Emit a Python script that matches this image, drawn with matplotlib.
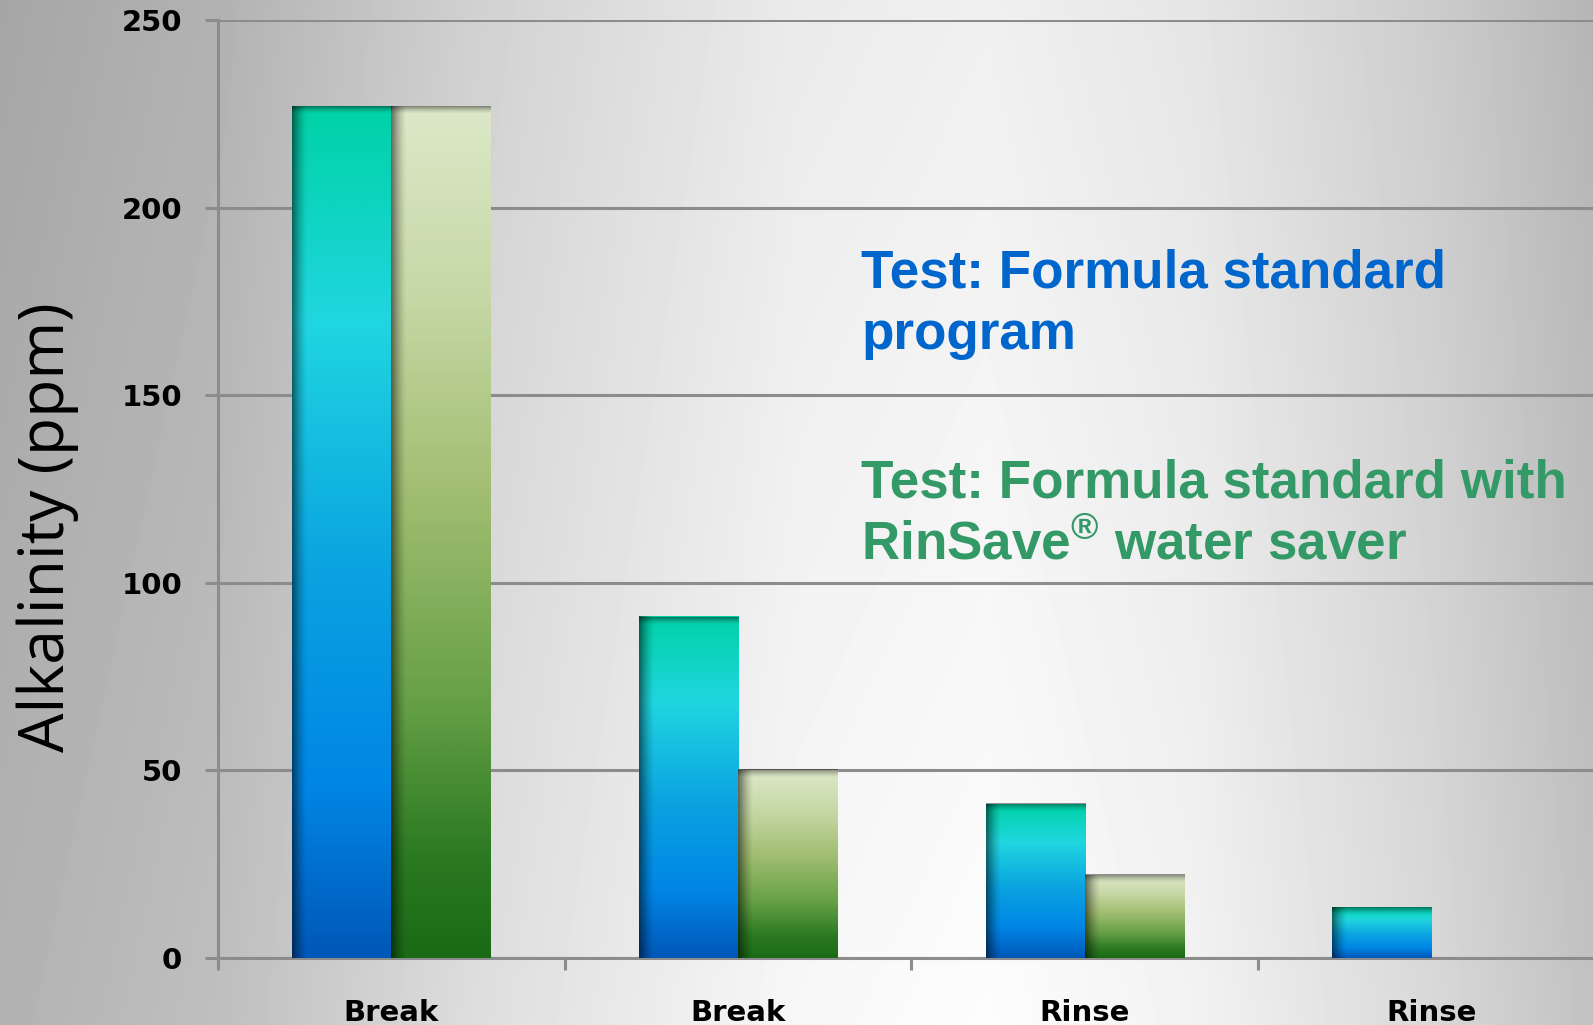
import numpy as np
import matplotlib
matplotlib.use('Agg')
import matplotlib.pyplot as plt
from matplotlib.colors import LinearSegmentedColormap

# data
categories = ['Break', 'Break', 'Rinse', 'Rinse']
standard = [227, 91, 41, 13.5]
rinsave = [227, 50, 22, 0]
y_ticks = [0, 50, 100, 150, 200, 250]

blue_stops = [(0.0, '#0058b8'), (0.2, '#0086e6'), (0.45, '#0aa2e0'),
              (0.75, '#20d6e0'), (1.0, '#00d2a6')]
green_stops = [(0.0, '#1a6a16'), (0.12, '#2c7a22'), (0.3, '#66a046'),
               (0.55, '#a2be72'), (0.78, '#c6d8a6'), (1.0, '#dce8c8')]

plt.rcParams['mathtext.fontset'] = 'custom'
plt.rcParams['mathtext.rm'] = 'Liberation Sans:bold'

W, H = 1593, 1025
fig = plt.figure(figsize=(W / 100, H / 100), dpi=100)

# background gradient
bg = fig.add_axes([0, 0, 1, 1], zorder=-10)
xs = np.linspace(0, 1, 500)
ys = np.linspace(0, 1, 300)
hx = np.interp(xs, [0, 0.14, 0.3, 0.5, 0.62, 0.75, 0.9, 1.0],
               [0.70, 0.75, 0.87, 0.97, 0.99, 0.95, 0.85, 0.76])
val = hx[None, :] - 0.05 * (1 - ys)[:, None]
bg.imshow(np.clip(val, 0, 1), cmap='gray', vmin=0, vmax=1, aspect='auto',
          extent=[0, 1, 0, 1], interpolation='bilinear')
bg.axis('off')

gray = '#8c8c8c'
ax = fig.add_axes([218 / W, 67 / H, (1604.7 - 218) / W, 938 / H])
ax.set_facecolor('none')

x = np.arange(len(categories))
w = 0.2856
b1 = ax.bar(x - w / 2, standard, w, color='none', zorder=2)
b2 = ax.bar(x + w / 2, rinsave, w, color='none', zorder=2)

px = 1 / 346.7          # one pixel in x data units
py = 250 / 938          # one pixel in y data units


def paint(rect, cmap):
    x0 = rect.get_x()
    x1 = x0 + rect.get_width()
    h = rect.get_height()
    if h <= 0:
        return
    grad = np.linspace(0, 1, 256)[:, None]
    ax.imshow(grad, cmap=cmap, origin='lower', extent=[x0, x1, 0, h],
              aspect='auto', zorder=3, interpolation='bilinear')
    # dark left edge
    sh = np.zeros((1, 64, 4))
    sh[..., 3] = 0.55 * (1 - np.linspace(0, 1, 64)) ** 1.5
    ax.imshow(sh, extent=[x0, x0 + 16 * px, 0, h], aspect='auto', zorder=4)
    # dark top band
    st = np.zeros((64, 1, 4))
    st[..., 3] = (0.45 * np.linspace(0, 1, 64) ** 1.5)[:, None]
    ax.imshow(st, origin='lower', extent=[x0, x1, max(0, h - 8 * py), h],
              aspect='auto', zorder=4)


blue_cmap = LinearSegmentedColormap.from_list('blue', blue_stops)
green_cmap = LinearSegmentedColormap.from_list('green', green_stops)
for r in b1:
    paint(r, blue_cmap)
for r in b2:
    paint(r, green_cmap)

ax.set_xlim(-0.5, 3.5)
ax.set_ylim(0, 250)
ax.set_yticks(y_ticks)
ax.grid(axis='y', color=gray, lw=2.2, zorder=1)
ax.set_axisbelow(True)
for s in ['top', 'right']:
    ax.spines[s].set_visible(False)
for s in ['left', 'bottom']:
    ax.spines[s].set_color(gray)
    ax.spines[s].set_linewidth(2.2)

ax.tick_params(axis='y', direction='out', length=9.4, width=2.2, color=gray,
               labelsize=21, pad=16.5)
ax.set_xticks(x)
ax.set_xticklabels(categories)
ax.set_xticks([-0.5, 0.5, 1.5, 2.5], minor=True)
ax.tick_params(axis='x', which='major', length=0, labelsize=21, pad=29.5)
ax.tick_params(axis='x', which='minor', direction='out', length=8.6,
               width=2.2, color=gray)
for lab in ax.get_xticklabels() + ax.get_yticklabels():
    lab.set_fontweight('bold')

fig.text(48 / W, 1 - 527 / H, 'Alkalinity (ppm)', rotation=90, ha='center',
         va='center', fontsize=45, family='Open Sans')

tprops = dict(fontsize=38.2, weight='bold', family='Liberation Sans',
              va='baseline', ha='left')
fig.text(861 / W, 1 - 288 / H, 'Test: Formula standard', color='#0066cc', **tprops)
fig.text(861 / W, 1 - 349 / H, 'program', color='#0066cc', **tprops)
fig.text(861 / W, 1 - 497 / H, 'Test: Formula standard with', color='#339966', **tprops)
fig.text(861 / W, 1 - 559 / H, r'RinSave$^{\mathrm{®}}$ water saver',
         color='#339966', **tprops)

plt.savefig('out.png', dpi=100)
